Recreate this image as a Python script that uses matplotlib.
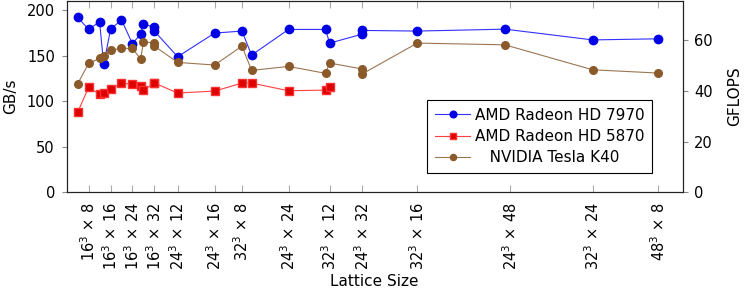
import matplotlib.pyplot as plt
import numpy as np

# lattice sizes (spatial extent L, time extent T); x position is the volume L^3 * T
lat_L = [16, 16, 16, 24, 16, 16, 16, 24, 16, 16, 32, 24, 24, 32, 24, 24, 24, 32, 48, 24, 32, 32, 32, 48]
lat_T = [4, 8, 12, 4, 16, 20, 24, 8, 28, 32, 4, 12, 16, 8, 20, 24, 28, 12, 4, 32, 16, 20, 24, 8]

hd7970 = [192.0, 178.8, 187.2, 140.4, 178.8, 189.4, 163.0, 174.0, 185.0, 181.0, 177.0, 148.8,
          174.8, 177.0, 150.6, 178.8, 178.8, 163.8, 173.7, 177.7, 177.0, 179.1, 167.3, 168.5]
hd5870 = [87.8, 115.2, 107.5, 108.9, 113.3, 119.6, 118.8, 116.3, 111.9, 120.2, 120.0, 109.0,
          111.1, 119.9, 119.9, 111.5, 112.2, 115.2]
k40 = [119.1, 141.5, 147.0, 149.9, 156.1, 158.0, 158.0, 146.2, 164.6, 164.4, 160.5, 142.6,
       139.7, 160.5, 133.8, 138.2, 130.6, 141.9, 135.3, 130.1, 163.8, 161.9, 134.5, 130.9]

# labelled ticks on the x axis
tick_L = [16, 16, 16, 16, 24, 24, 32, 24, 32, 24, 32, 24, 32, 48]
tick_T = [8, 16, 24, 32, 12, 16, 8, 24, 12, 32, 16, 48, 24, 8]

vol = np.array(lat_L) ** 3 * np.array(lat_T)
tick_vol = np.array(tick_L) ** 3 * np.array(tick_T)
tick_lab = [r"$%d^3\,\times\,%d$" % (l, t) for l, t in zip(tick_L, tick_T)]

plt.rcParams['font.family'] = 'DejaVu Sans'
plt.rcParams['mathtext.fontset'] = 'dejavusans'

fig = plt.figure(figsize=(7.47, 2.88), dpi=100)
ax = fig.add_axes([0.0893, 0.3323, 0.8244, 0.6642])

ax.plot(vol, hd7970, color='#3030ff', lw=0.8, marker='o', ms=6,
        mfc='#0000e6', mec='#0000e6', label='AMD Radeon HD 7970')
ax.plot(vol[:len(hd5870)], hd5870, color='#ff4040', lw=0.8, marker='s', ms=5.5,
        mfc='#dd0000', mec='#ff3030', label='AMD Radeon HD 5870')
ax.plot(vol, k40, color='#9b7653', lw=0.8, marker='o', ms=5.5,
        mfc='#8b5a2b', mec='#8b5a2b', label='   NVIDIA Tesla K40')

ax.set_xlim(0, 921000)
ax.set_ylim(0, 210)
ax.set_yticks([0, 50, 100, 150, 200])
ax.set_xticks(tick_vol)
ax.set_xticklabels(tick_lab, rotation=90, fontsize=10.5)
ax.tick_params(axis='x', direction='in', top=True, length=5, color='#aaaaaa', pad=7)
ax.tick_params(axis='y', direction='out', length=3.5, color='#888888', labelsize=10.5, pad=5)
ax.set_ylabel('GB/s', fontsize=11, labelpad=6)
ax.set_xlabel('Lattice Size', fontsize=11, labelpad=3)

ax2 = ax.twinx()
ax2.set_ylim(0, 75.4)
ax2.set_yticks([0, 20, 40, 60])
ax2.tick_params(axis='y', direction='out', length=3.5, color='#888888', labelsize=10.5, pad=5)
ax2.set_ylabel('GFLOPS', fontsize=11, labelpad=10)

for a in (ax, ax2):
    for s in a.spines.values():
        s.set_linewidth(0.8)
        s.set_color('#222222')

leg = ax2.legend(*ax.get_legend_handles_labels(), loc='lower right',
                 bbox_to_anchor=(0.9505, 0.101), borderaxespad=0, fontsize=11,
                 fancybox=False, framealpha=1, edgecolor='black', handlelength=2.3,
                 handletextpad=0.3, labelspacing=0.42, borderpad=0.5, markerscale=0.8)
leg.get_frame().set_linewidth(0.8)

fig.savefig('out.png', dpi=100)
